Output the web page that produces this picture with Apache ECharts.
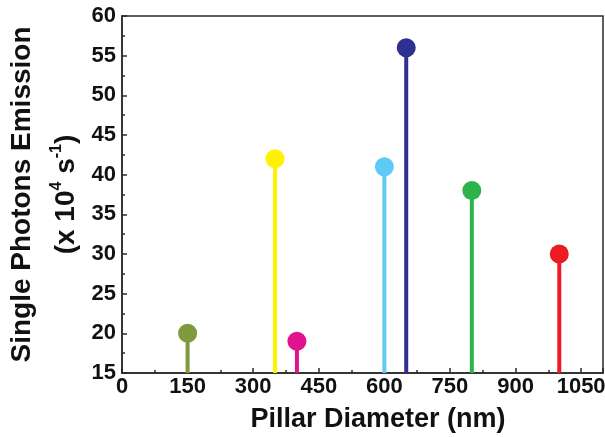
<!DOCTYPE html>
<html>
<head>
<meta charset="utf-8">
<script src="https://cdn.jsdelivr.net/npm/echarts@6/dist/echarts.min.js"></script>
<style>html,body{margin:0;padding:0;background:#fff}#c{width:605px;height:437px}</style>
</head>
<body>
<div id="c"></div>
<script>
const diameters = [150, 350, 400, 600, 650, 800, 1000];
const emission = [20, 42, 19, 41, 56, 38, 30];
const colors = ['#7f9a3c', '#fff200', '#e0138c', '#5ccbf5', '#2e3192', '#2db34a', '#ed1c24'];
const xTitle = 'Pillar Diameter (nm)';
const yTitle1 = 'Single Photons Emission';

const chart = echarts.init(document.getElementById('c'));
const font = 'Liberation Sans, Arial, sans-serif';
const axisColor = '#2a2a2a';

const stemData = diameters.map((d, i) => ({ value: [d, emission[i]], itemStyle: { color: colors[i] } }));
const dotData = diameters.map((d, i) => ({ value: [d, emission[i]], itemStyle: { color: colors[i], opacity: 1 } }));

chart.setOption({
  animation: false,
  grid: { left: 122, right: 2, top: 16, bottom: 64, containLabel: false, outerBoundsMode: 'none', show: true, borderColor: axisColor, borderWidth: 1.5, backgroundColor: 'transparent' },
  xAxis: {
    type: 'value', min: 0, max: 1100, interval: 150,
    name: xTitle, nameLocation: 'middle', nameGap: 33,
    nameTextStyle: { fontFamily: font, fontWeight: 'bold', fontSize: 27, color: '#111', padding: [0, 0, 0, 31] },
    axisLine: { show: true, lineStyle: { color: axisColor, width: 1.5 } },
    axisTick: { show: true, inside: true, length: 5, lineStyle: { color: axisColor, width: 1.5 } },
    minorTick: { show: true, splitNumber: 2, length: 3, lineStyle: { color: axisColor, width: 1.5 } },
    axisLabel: { fontFamily: font, fontWeight: 'bold', fontSize: 22, color: '#111', margin: 3, showMaxLabel: false, formatter: v => String(v) },
    splitLine: { show: false }
  },
  yAxis: {
    type: 'value', min: 15, max: 60, interval: 5,
    name: '{t|' + yTitle1 + '}\n{t|(x 10}{s|4}{t| s}{s|-1}{t|)}',
    nameLocation: 'middle', nameGap: 30,
    nameTextStyle: {
      fontFamily: font, fontWeight: 'bold', color: '#111', align: 'center',
      rich: {
        t: { fontFamily: font, fontWeight: 'bold', fontSize: 28, color: '#111', lineHeight: 44 },
        s: { fontFamily: font, fontWeight: 'bold', fontSize: 16, color: '#111', lineHeight: 44, verticalAlign: 'top', padding: [4, 0, 0, 0] }
      }
    },
    axisLine: { show: true, lineStyle: { color: axisColor, width: 1.5 } },
    axisTick: { show: true, inside: true, length: 5, lineStyle: { color: axisColor, width: 1.5 } },
    minorTick: { show: true, splitNumber: 2, length: 3, lineStyle: { color: axisColor, width: 1.5 } },
    axisLabel: { fontFamily: font, fontWeight: 'bold', fontSize: 22, color: '#111', margin: 6 },
    splitLine: { show: false }
  },
  series: [
    { type: 'bar', data: stemData, barWidth: 4, clip: true, z: 2 },
    { type: 'scatter', data: dotData, symbol: 'circle', symbolSize: 19, z: 3 }
  ]
});
</script>
</body>
</html>
